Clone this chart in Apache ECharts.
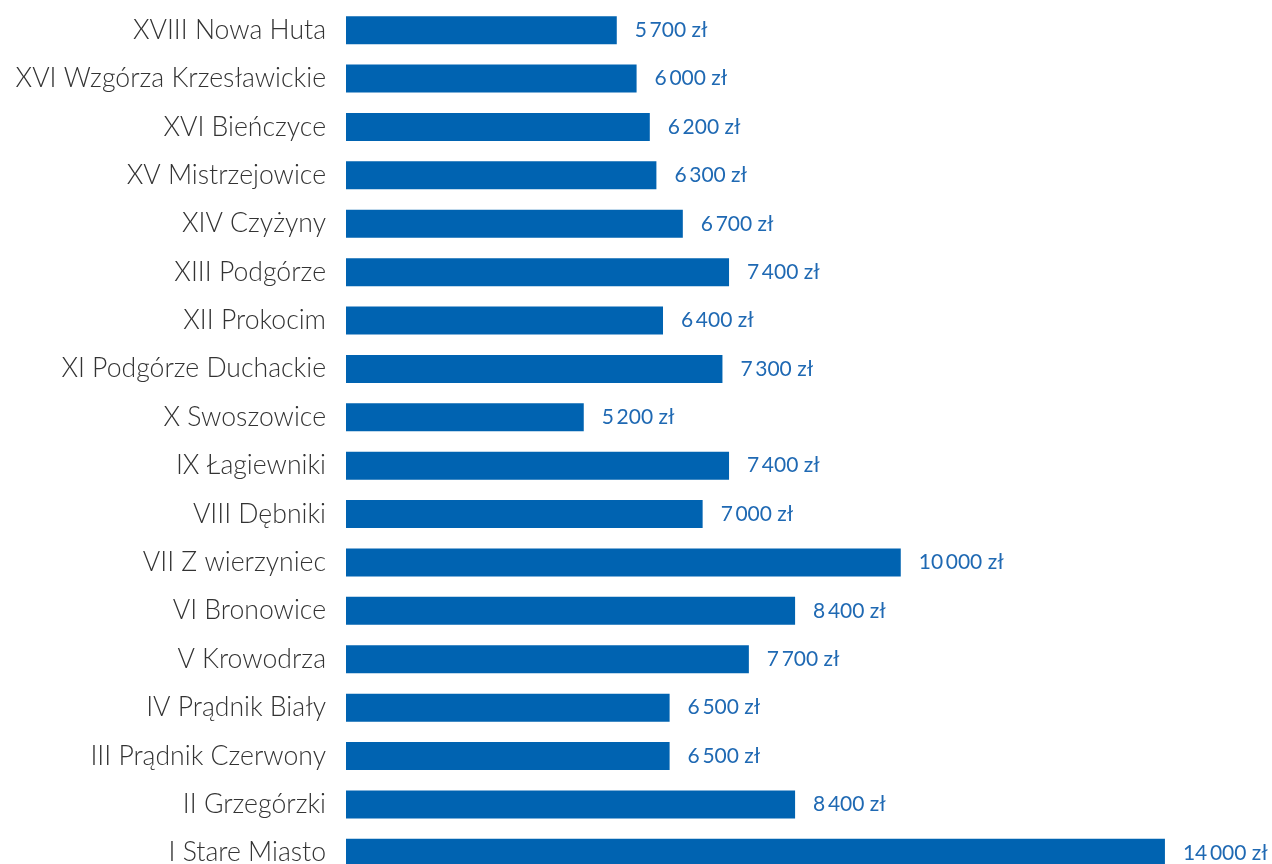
<!DOCTYPE html>
<html><head><meta charset="utf-8">
<script src="https://cdn.jsdelivr.net/npm/echarts@6/dist/echarts.min.js"></script>
<style>html,body{margin:0;padding:0;background:#fff}#c{width:1272px;height:864px}</style>
</head><body><div id="c"></div>
<script>
const categories = ["XVIII Nowa Huta","XVI Wzgórza Krzesławickie","XVI Bieńczyce","XV Mistrzejowice","XIV Czyżyny","XIII Podgórze","XII Prokocim","XI Podgórze Duchackie","X Swoszowice","IX Łagiewniki","VIII Dębniki","VII Z wierzyniec","VI Bronowice","V Krowodrza","IV Prądnik Biały","III Prądnik Czerwony","II Grzegórzki","I Stare Miasto"];
const values = [5700,6000,6200,6300,6700,7400,6400,7300,5200,7400,7000,10000,8400,7700,6500,6500,8400,14000];
const chart = echarts.init(document.getElementById('c'));
function fmt(v){return String(v).replace(/\B(?=(\d{3})+(?!\d))/g,'\u2009')+' zł';}
chart.setOption({
  animation:false,
  grid:{left:346,top:6,width:918,height:871,containLabel:false,outerBoundsMode:'none'},
  xAxis:{type:'value',min:1600,max:15500,show:false},
  yAxis:{type:'category',inverse:true,data:categories,
    axisLine:{show:false},axisTick:{show:false},
    axisLabel:{margin:20,fontFamily:'Lato',fontWeight:300,fontSize:26.6,color:'#333'}},
  series:[{type:'bar',data:values,barWidth:28,itemStyle:{color:'#0063b1'},
    label:{show:true,position:'right',distance:18,fontFamily:'Lato',fontWeight:'normal',fontSize:21,color:'#1f69b3',
      formatter:p=>fmt(p.value)}}]
});
</script></body></html>
